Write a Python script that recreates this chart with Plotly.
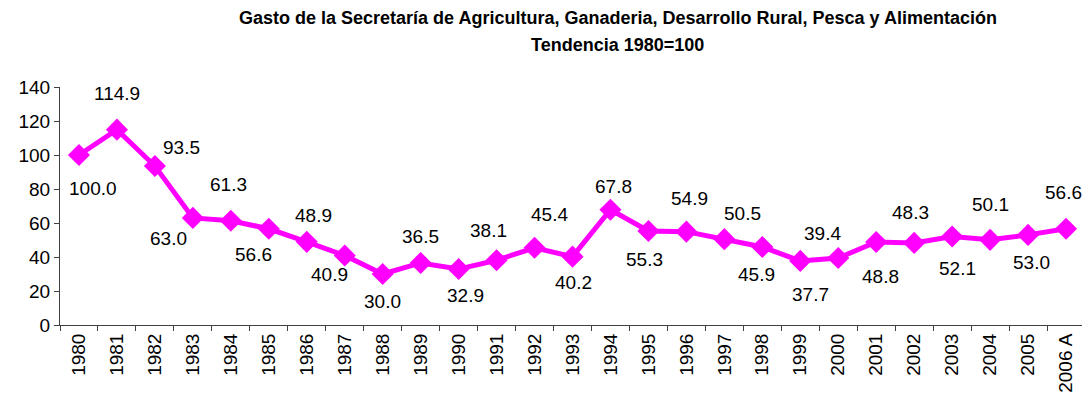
import plotly.graph_objects as go

years = ["1980", "1981", "1982", "1983", "1984", "1985", "1986", "1987", "1988",
         "1989", "1990", "1991", "1992", "1993", "1994", "1995", "1996", "1997",
         "1998", "1999", "2000", "2001", "2002", "2003", "2004", "2005", "2006 A"]
values = [100.0, 114.9, 93.5, 63.0, 61.3, 56.6, 48.9, 40.9, 30.0,
          36.5, 32.9, 38.1, 45.4, 40.2, 67.8, 55.3, 54.9, 50.5,
          45.9, 37.7, 39.4, 48.8, 48.3, 52.1, 50.1, 53.0, 56.6]
y_ticks = [0, 20, 40, 60, 80, 100, 120, 140]

# label offsets in pixels (dx right, dy down)
label_dx = [14, 0, 27, -24, -2, -15, 7, -15, 0, 0, 7, -8, 15, 1, 3, -4, 3, 18,
            -6, 10, -16, 4, -4, 5, 0, 3, -3]
label_dy = [33, -36, -19, 21, -36, 26, -26, 19, 27, -26, 26, -30, -33, 26, -23, 29,
            -33, -26, 28, 34, -25, 34, -30, 32, -35, 28, -36]

FONT = "Liberation Sans, Arial, sans-serif"
COLOR = "#FF00FF"

fig = go.Figure()
fig.add_trace(go.Scatter(
    x=years, y=values, mode="lines+markers",
    line=dict(color=COLOR, width=5),
    marker=dict(symbol="diamond", size=17, color=COLOR),
    hoverinfo="x+y", showlegend=False,
))

annotations = []
for i, (v, dx, dy) in enumerate(zip(values, label_dx, label_dy)):
    annotations.append(dict(
        x=i, y=v, xref="x", yref="y", text=f"{v:.1f}", showarrow=False,
        xshift=dx, yshift=-dy, font=dict(family=FONT, size=19, color="#000000"),
        xanchor="center", yanchor="middle",
    ))

annotations.append(dict(
    x=0.544, y=1.29, xref="paper", yref="paper", showarrow=False,
    text="<b>Gasto de la Secretaría de Agricultura, Ganaderia, Desarrollo Rural, Pesca y Alimentación</b>",
    font=dict(family=FONT, size=18, color="#000000"), xanchor="center", yanchor="middle",
))
annotations.append(dict(
    x=0.544, y=1.176, xref="paper", yref="paper", showarrow=False,
    text="<b>Tendencia 1980=100</b>",
    font=dict(family=FONT, size=18, color="#000000"), xanchor="center", yanchor="middle",
))

# page body has an 8px margin, so the figure is sized to fit inside the window
fig.update_layout(
    width=1082, height=390,
    margin=dict(l=52, r=5, t=79, b=73),
    paper_bgcolor="white", plot_bgcolor="white",
    annotations=annotations,
    font=dict(family=FONT, size=19, color="#000000"),
)
fig.update_xaxes(
    type="category", range=[-0.5, 26.5], showgrid=False,
    showline=True, linecolor="#404040", linewidth=1,
    ticks="outside", ticklen=5, tickcolor="#404040", tickson="boundaries",
    tickangle=-90, tickfont=dict(family=FONT, size=19),
    zeroline=False, automargin=False,
)
fig.update_yaxes(
    range=[0, 140], tickvals=y_ticks, showgrid=False,
    showline=True, linecolor="#404040", linewidth=1,
    ticks="outside", ticklen=5, tickcolor="#404040",
    tickfont=dict(family=FONT, size=19), zeroline=False, automargin=False,
)

fig.write_html("out.html")
